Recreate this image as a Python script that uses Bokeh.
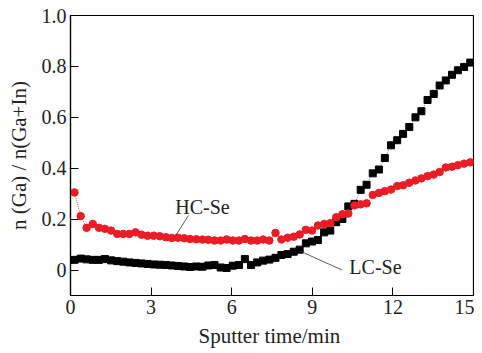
from bokeh.plotting import figure
from bokeh.models import FixedTicker, Range1d, Label, ColumnDataSource
from bokeh.embed import file_html
from bokeh.resources import INLINE

time_min = [0.15, 0.38, 0.6, 0.83, 1.06, 1.28, 1.51, 1.74, 1.96, 2.19, 2.42, 2.64, 2.87, 3.1, 3.32,
            3.55, 3.77, 4.0, 4.23, 4.45, 4.68, 4.91, 5.13, 5.36, 5.59, 5.81, 6.04, 6.27, 6.49, 6.72,
            6.95, 7.17, 7.4, 7.63, 7.85, 8.08, 8.31, 8.53, 8.76, 8.99, 9.21, 9.44, 9.67, 9.89, 10.12,
            10.34, 10.57, 10.8, 11.02, 11.25, 11.48, 11.7, 11.93, 12.16, 12.38, 12.61, 12.84, 13.06,
            13.29, 13.52, 13.74, 13.97, 14.2, 14.42, 14.65, 14.88]

hc_se = [0.305, 0.212, 0.166, 0.181, 0.166, 0.162, 0.155, 0.142, 0.142, 0.142, 0.148, 0.139, 0.135,
         0.135, 0.133, 0.129, 0.126, 0.127, 0.125, 0.122, 0.121, 0.120, 0.119, 0.116, 0.116, 0.120,
         0.116, 0.116, 0.122, 0.116, 0.116, 0.120, 0.116, 0.146, 0.120, 0.127, 0.131, 0.140, 0.158,
         0.155, 0.175, 0.181, 0.184, 0.207, 0.219, 0.222, 0.254, 0.258, 0.262, 0.295, 0.303, 0.310,
         0.316, 0.330, 0.333, 0.343, 0.352, 0.360, 0.369, 0.375, 0.385, 0.403, 0.406, 0.412, 0.418,
         0.423]

lc_se = [0.040, 0.045, 0.042, 0.040, 0.040, 0.043, 0.038, 0.035, 0.033, 0.030, 0.028, 0.026, 0.024,
         0.022, 0.021, 0.020, 0.018, 0.016, 0.014, 0.012, 0.014, 0.013, 0.018, 0.020, 0.010, 0.008,
         0.017, 0.020, 0.043, 0.020, 0.030, 0.037, 0.041, 0.048, 0.059, 0.063, 0.072, 0.080, 0.105,
         0.112, 0.118, 0.148, 0.155, 0.188, 0.201, 0.250, 0.260, 0.315, 0.335, 0.380, 0.395, 0.440,
         0.490, 0.510, 0.535, 0.562, 0.600, 0.624, 0.668, 0.692, 0.725, 0.745, 0.767, 0.785, 0.798,
         0.815]

x_ticks = [0, 3, 6, 9, 12, 15]
y_ticks = [0, 0.2, 0.4, 0.6, 0.8, 1.0]
y_tick_labels = ["0", "0.2", "0.4", "0.6", "0.8", "1.0"]
x_title = "Sputter  time/min"
y_title = "n (Ga) / n(Ga+In)"

FONT = "Liberation Serif"
TXT = "#222222"

p = figure(width=474, height=353, output_backend="svg", toolbar_location=None,
           x_range=Range1d(0, 15), y_range=Range1d(-0.1, 1.0),
           min_border_left=70, min_border_right=1, min_border_top=15, min_border_bottom=58)

p.grid.visible = False
p.outline_line_color = "black"
p.outline_line_width = 1.2
p.background_fill_color = "white"

src = ColumnDataSource(dict(t=time_min, hc=hc_se, lc=lc_se))

p.line("t", "lc", source=src, line_color="#555555", line_width=0.7, line_dash="1 1")
p.line("t", "hc", source=src, line_color="#e8212b", line_width=0.8, line_dash="1 1")
p.scatter("t", "lc", source=src, marker="square", size=7, fill_color="black", line_color="black")
p.scatter("t", "hc", source=src, marker="circle", size=7.5, fill_color="#ec1c24", line_color="#ec1c24")

for ax in (p.xaxis[0], p.yaxis[0]):
    ax.axis_line_color = "black"
    ax.axis_line_width = 1.2
    ax.major_tick_in = 8
    ax.major_tick_out = 0
    ax.minor_tick_in = 0
    ax.minor_tick_out = 0
    ax.major_tick_line_color = "black"
    ax.major_label_text_font = FONT
    ax.major_label_text_font_size = "20px"
    ax.major_label_text_color = TXT
    ax.axis_label_text_font = FONT
    ax.axis_label_text_font_size = "21px"
    ax.axis_label_text_font_style = "normal"
    ax.axis_label_text_color = TXT

p.xaxis.ticker = FixedTicker(ticks=x_ticks)
p.yaxis.ticker = FixedTicker(ticks=y_ticks)
p.yaxis.major_label_overrides = {v: s for v, s in zip(y_ticks, y_tick_labels)}
p.xaxis.major_label_standoff = 4
p.yaxis.major_label_standoff = 4
p.xaxis.axis_label = x_title
p.xaxis.axis_label_standoff = 7
p.yaxis.axis_label = y_title
p.yaxis.axis_label_standoff = 8

# annotations
p.add_layout(Label(x=4.91, y=0.246, text="HC-Se", text_font=FONT, text_font_size="20px",
                   text_color=TXT, text_align="center", text_baseline="middle"))
p.add_layout(Label(x=11.35, y=0.013, text="LC-Se", text_font=FONT, text_font_size="20px",
                   text_color=TXT, text_align="center", text_baseline="middle"))
lead = ColumnDataSource(dict(x0=[4.39, 8.53], y0=[0.214, 0.075], x1=[3.91, 10.11], y1=[0.135, 0.0]))
p.segment("x0", "y0", "x1", "y1", source=lead, line_color="#333333", line_width=0.8)

open("out.html", "w").write(file_html(p, INLINE))
